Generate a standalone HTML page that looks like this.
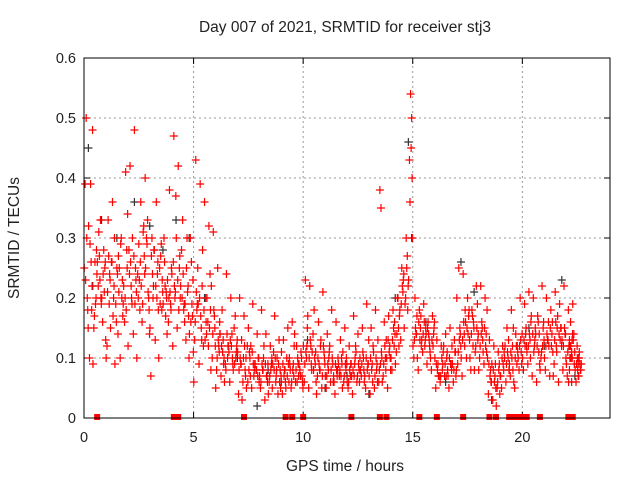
<!DOCTYPE html>
<html><head><meta charset="utf-8"><style>
body{margin:0;background:#fff}
svg{display:block;font-family:"Liberation Sans",sans-serif}
</style></head><body>
<svg id="chart" width="640" height="480" viewBox="0 0 640 480">
<text x="345" y="32" font-size="15.5" text-anchor="middle" fill="#222">Day 007 of 2021, SRMTID for receiver stj3</text>
<text transform="translate(19,238) rotate(-90)" font-size="15.5" text-anchor="middle" fill="#222">SRMTID / TECUs</text>
<text x="345" y="471" font-size="15.5" text-anchor="middle" fill="#222">GPS time / hours</text>
<g id="grid"></g><g id="ticks"></g><g id="marks"></g>
<rect x="84" y="58" width="526" height="360" fill="none" stroke="#000" stroke-width="1"/>
</svg>
<script>
const xTicks=[0,5,10,15,20];
const yTicks=[0,0.1,0.2,0.3,0.4,0.5,0.6];
const yTickLabels=["0","0.1","0.2","0.3","0.4","0.5","0.6"];
const times=[0.1,0.3,0.5,0.7,0.9,1.1,1.3,1.5,1.7,1.9,2.1,2.3,2.5,2.7,2.9,3.1,3.3,3.5,3.7,3.9,4.1,4.3,4.5,4.7,4.9,5.1,5.3,5.5,5.7,5.9,6.1,6.3,6.5,6.7,6.9,7.1,7.3,7.5,7.7,7.9,8.1,8.3,8.5,8.7,8.9,9.1,9.3,9.5,9.7,9.9,10.1,10.3,10.5,10.7,10.9,11.1,11.3,11.5,11.7,11.9,12.1,12.3,12.5,12.7,12.9,13.1,13.3,13.5,13.7,13.9,14.1,14.3,14.5,14.7,14.9,15.1,15.3,15.5,15.7,15.9,16.1,16.3,16.5,16.7,16.9,17.1,17.3,17.5,17.7,17.9,18.1,18.3,18.5,18.7,18.9,19.1,19.3,19.5,19.7,19.9,20.1,20.3,20.5,20.7,20.9,21.1,21.3,21.5,21.7,21.9,22.1,22.2,22.3,22.5,22.6];
const v1=[0.50,0.39,0.26,0.27,0.28,0.33,0.36,0.25,0.30,0.41,0.42,0.48,0.29,0.31,0.33,0.30,0.36,0.27,0.22,0.38,0.47,0.42,0.33,0.30,0.26,0.43,0.39,0.36,0.32,0.31,0.25,0.18,0.24,0.20,0.17,0.20,0.17,0.15,0.19,0.14,0.18,0.14,0.12,0.17,0.13,0.13,0.15,0.16,0.12,0.11,0.23,0.22,0.18,0.16,0.21,0.14,0.18,0.16,0.13,0.15,0.12,0.17,0.14,0.15,0.19,0.15,0.18,0.38,0.16,0.17,0.18,0.20,0.25,0.30,0.54,0.20,0.18,0.19,0.16,0.17,0.13,0.12,0.14,0.15,0.13,0.25,0.24,0.20,0.18,0.22,0.22,0.20,0.13,0.12,0.11,0.12,0.15,0.18,0.14,0.20,0.19,0.21,0.20,0.17,0.22,0.20,0.18,0.21,0.19,0.22,0.18,0.16,0.19,0.12,0.11];
const v2=[0.20,0.18,0.20,0.33,0.25,0.19,0.20,0.14,0.23,0.28,0.22,0.25,0.18,0.27,0.20,0.20,0.24,0.18,0.21,0.19,0.20,0.25,0.18,0.22,0.17,0.18,0.15,0.20,0.24,0.17,0.12,0.13,0.10,0.14,0.11,0.09,0.08,0.11,0.07,0.10,0.08,0.07,0.09,0.06,0.08,0.08,0.06,0.09,0.10,0.07,0.10,0.12,0.09,0.08,0.11,0.08,0.09,0.07,0.10,0.08,0.07,0.09,0.08,0.10,0.09,0.09,0.08,0.35,0.10,0.12,0.12,0.15,0.21,0.27,0.50,0.14,0.15,0.12,0.13,0.14,0.09,0.08,0.10,0.09,0.11,0.15,0.14,0.17,0.12,0.19,0.16,0.14,0.08,0.07,0.09,0.08,0.10,0.12,0.09,0.11,0.14,0.13,0.12,0.11,0.15,0.13,0.14,0.12,0.15,0.14,0.13,0.11,0.14,0.09,0.08];
const v3=[0.39,0.10,0.15,0.22,0.16,0.12,0.26,0.19,0.10,0.16,0.28,0.14,0.24,0.16,0.30,0.07,0.13,0.25,0.30,0.16,0.12,0.15,0.28,0.13,0.30,0.13,0.09,0.12,0.16,0.10,0.08,0.07,0.09,0.06,0.15,0.04,0.06,0.12,0.05,0.08,0.05,0.03,0.06,0.11,0.04,0.04,0.10,0.05,0.06,0.08,0.06,0.05,0.14,0.07,0.05,0.05,0.06,0.04,0.07,0.06,0.05,0.04,0.06,0.07,0.05,0.04,0.05,0.06,0.07,0.05,0.08,0.11,0.13,0.19,0.43,0.10,0.08,0.11,0.09,0.08,0.05,0.06,0.07,0.05,0.06,0.09,0.07,0.10,0.08,0.11,0.10,0.09,0.04,0.03,0.05,0.05,0.06,0.07,0.05,0.08,0.08,0.09,0.07,0.06,0.10,0.08,0.07,0.09,0.06,0.08,0.07,0.08,0.06,0.06,0.07];
const v4=[0.15,0.48,0.24,0.19,0.13,0.23,0.30,0.21,0.19,0.34,0.19,0.21,0.36,0.40,0.14,0.28,0.18,0.21,0.14,0.25,0.37,0.20,0.16,0.10,0.11,0.25,0.22,0.14,0.08,0.12,0.16,0.10,0.12,0.09,0.13,0.13,0.10,0.07,0.09,0.06,0.10,0.09,0.05,0.08,0.07,0.06,0.09,0.12,0.07,0.05,0.15,0.08,0.06,0.12,0.09,0.11,0.07,0.10,0.05,0.09,0.09,0.12,0.10,0.06,0.13,0.12,0.06,0.10,0.13,0.08,0.14,0.17,0.24,0.22,0.30,0.17,0.12,0.15,0.11,0.16,0.07,0.11,0.08,0.12,0.08,0.12,0.18,0.13,0.15,0.14,0.13,0.18,0.06,0.05,0.07,0.10,0.08,0.15,0.11,0.14,0.12,0.16,0.15,0.09,0.13,0.16,0.11,0.15,0.12,0.10,0.10,0.14,0.11,0.10,0.09];
const v5=[0.25,0.32,0.09,0.26,0.20,0.10,0.15,0.09,0.25,0.22,0.12,0.30,0.10,0.22,0.25,0.15,0.28,0.10,0.19,0.23,0.24,0.30,0.22,0.19,0.14,0.06,0.19,0.28,0.20,0.22,0.05,0.14,0.06,0.11,0.08,0.11,0.03,0.05,0.12,0.09,0.07,0.12,0.04,0.09,0.10,0.11,0.05,0.08,0.14,0.09,0.12,0.17,0.11,0.04,0.13,0.07,0.12,0.06,0.09,0.11,0.06,0.07,0.11,0.08,0.07,0.07,0.11,0.13,0.06,0.10,0.10,0.09,0.18,0.15,0.23,0.12,0.10,0.13,0.14,0.10,0.10,0.07,0.12,0.07,0.09,0.20,0.10,0.16,0.10,0.08,0.08,0.11,0.10,0.09,0.02,0.07,0.12,0.09,0.06,0.10,0.10,0.11,0.17,0.14,0.08,0.10,0.12,0.07,0.17,0.13,0.09,0.06,0.12,0.08,0.10];
const v6=[0.30,0.26,0.19,0.23,0.21,0.27,0.17,0.24,0.20,0.18,0.26,0.19,0.23,0.32,0.21,0.24,0.20,0.29,0.17,0.21,0.22,0.18,0.24,0.21,0.19,0.21,0.17,0.13,0.15,0.18,0.13,0.11,0.14,0.12,0.10,0.10,0.12,0.08,0.09,0.07,0.09,0.07,0.08,0.10,0.06,0.07,0.09,0.08,0.06,0.10,0.11,0.13,0.10,0.09,0.12,0.09,0.10,0.08,0.07,0.09,0.08,0.07,0.09,0.11,0.08,0.08,0.10,0.09,0.12,0.11,0.15,0.20,0.22,0.25,0.45,0.15,0.13,0.16,0.14,0.12,0.08,0.10,0.07,0.09,0.11,0.13,0.16,0.14,0.17,0.15,0.14,0.12,0.07,0.06,0.08,0.09,0.11,0.10,0.12,0.13,0.12,0.14,0.11,0.16,0.12,0.14,0.12,0.16,0.13,0.15,0.12,0.10,0.13,0.08,0.09];
const v7=[0.23,0.29,0.17,0.31,0.24,0.21,0.26,0.16,0.29,0.20,0.24,0.27,0.20,0.19,0.29,0.27,0.22,0.19,0.26,0.20,0.26,0.23,0.20,0.25,0.16,0.16,0.20,0.18,0.12,0.14,0.10,0.12,0.08,0.13,0.09,0.08,0.10,0.06,0.11,0.08,0.06,0.09,0.07,0.08,0.09,0.09,0.07,0.06,0.08,0.07,0.09,0.10,0.08,0.10,0.07,0.07,0.08,0.09,0.08,0.07,0.06,0.08,0.07,0.09,0.10,0.10,0.07,0.08,0.09,0.13,0.13,0.14,0.19,0.20,0.36,0.13,0.16,0.14,0.15,0.13,0.09,0.07,0.09,0.10,0.08,0.11,0.13,0.15,0.14,0.12,0.12,0.15,0.09,0.08,0.06,0.10,0.09,0.11,0.10,0.12,0.13,0.12,0.14,0.12,0.11,0.12,0.15,0.13,0.14,0.12,0.11,0.12,0.10,0.09,0.07];
const v8=[0.18,0.22,0.28,0.20,0.26,0.24,0.22,0.27,0.17,0.25,0.20,0.23,0.26,0.24,0.18,0.22,0.26,0.23,0.20,0.18,0.21,0.27,0.19,0.17,0.23,0.19,0.13,0.16,0.18,0.15,0.11,0.09,0.12,0.10,0.12,0.09,0.07,0.10,0.08,0.10,0.08,0.06,0.10,0.07,0.05,0.08,0.10,0.07,0.09,0.06,0.12,0.09,0.11,0.08,0.10,0.10,0.06,0.08,0.09,0.10,0.09,0.10,0.06,0.08,0.09,0.06,0.09,0.11,0.08,0.10,0.16,0.12,0.23,0.18,0.40,0.14,0.17,0.13,0.12,0.15,0.07,0.09,0.11,0.08,0.07,0.14,0.12,0.18,0.16,0.13,0.15,0.11,0.06,0.09,0.04,0.11,0.13,0.08,0.12,0.09,0.15,0.10,0.13,0.14,0.16,0.13,0.16,0.11,0.15,0.14,0.10,0.13,0.09,0.10,0.08];
const blackTimes=[0.2,0.4,0.8,1.5,2.3,3.0,3.6,4.2,4.8,5.5,6.2,7.0,7.9,8.4,9.0,10.2,11.0,12.0,13.0,14.2,14.8,14.95,15.6,16.5,17.2,17.8,18.6,19.4,20.3,21.0,21.8,22.4];
const blackValues=[0.45,0.22,0.33,0.30,0.36,0.32,0.28,0.33,0.30,0.20,0.14,0.10,0.02,0.08,0.06,0.13,0.05,0.07,0.04,0.20,0.46,0.30,0.16,0.06,0.26,0.21,0.03,0.08,0.15,0.12,0.23,0.07];
const squareTimes=[0.6,4.1,4.3,7.3,9.2,9.5,10.0,12.2,13.5,13.8,15.3,16.1,17.3,18.5,18.8,19.4,19.6,19.8,20.0,20.2,20.8,22.1,22.3];

const NS="http://www.w3.org/2000/svg";
const X0=84,X1=610,Y0=418,Y1=58;
function xs(t){return X0+(t/24)*(X1-X0);}
function ys(v){return Y0-(v/0.6)*(Y0-Y1);}
function mk(tag,attrs,parent){const e=document.createElementNS(NS,tag);for(const k in attrs)e.setAttribute(k,attrs[k]);parent.appendChild(e);return e;}
const grid=document.getElementById('grid'),ticks=document.getElementById('ticks'),marks=document.getElementById('marks');
yTicks.forEach((v,i)=>{
  const y=ys(v);
  if(i>0&&i<yTicks.length-1){const g=mk('line',{x1:X0,x2:X1,y1:y,y2:y,stroke:'#999','stroke-dasharray':'2,3'},grid);
  
  }
  const t=mk('text',{x:X0-8,y:y+5,'font-size':14.5,'text-anchor':'end',fill:'#222'},ticks);t.textContent=yTickLabels[i];
  
  
  mk('line',{x1:X0,x2:X0+6,y1:y,y2:y,stroke:'#000'},ticks);
  mk('line',{x1:X1,x2:X1-6,y1:y,y2:y,stroke:'#000'},ticks);
});
xTicks.forEach(v=>{
  const x=xs(v);
  if(v>0){const g=mk('line',{x1:x,x2:x,y1:Y0,y2:Y1,stroke:'#999','stroke-dasharray':'2,3'},grid);
  
  }
  const t=mk('text',{x:x,y:Y0+24,'font-size':14.5,'text-anchor':'middle',fill:'#222'},ticks);t.textContent=String(v);
  
  
  mk('line',{x1:x,x2:x,y1:Y0,y2:Y0-6,stroke:'#000'},ticks);
  mk('line',{x1:x,x2:x,y1:Y1,y2:Y1+6,stroke:'#000'},ticks);
});
function plus(t,v,color,name){
  const x=xs(t),y=ys(v);
  const p=mk('path',{d:`M${x-4},${y}h8M${x},${y-4}v8`,stroke:color,'stroke-width':1.2,fill:'none'},marks);
  
  
}
blackValues.forEach((v,i)=>plus(blackTimes[i],v,'#333','black-point'));
const series=[v1,v2,v3,v4,v5,v6,v7,v8],offs=[0,0.05,-0.05,0.09,-0.09,0.025,-0.025,0.07];
series.forEach((arr,s)=>arr.forEach((v,i)=>plus(times[i]+offs[s],v,'#f00','red-point')));
squareTimes.forEach(t=>{
  const r=mk('rect',{x:xs(t)-3,y:Y0-4,width:6,height:6,fill:'#f00'},marks);
  
  
});
</script>
</body></html>
